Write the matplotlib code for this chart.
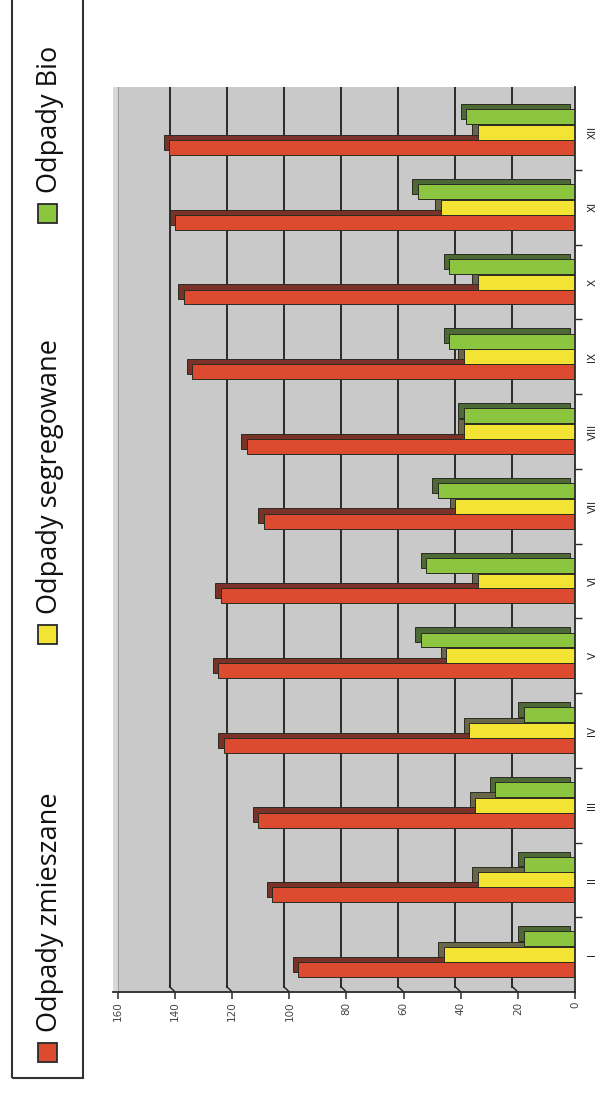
import matplotlib
matplotlib.use("Agg")
import matplotlib.pyplot as plt
import numpy as np
from matplotlib.patches import Rectangle

# data
months = ["I", "II", "III", "IV", "V", "VI", "VII", "VIII", "IX", "X", "XI", "XII"]
series_names = ["Odpady zmieszane", "Odpady segregowane", "Odpady Bio"]
mixed = [97, 106, 111, 123, 125, 124, 109, 115, 134, 137, 140, 142]
sorted_waste = [46, 34, 35, 37, 45, 34, 42, 39, 39, 34, 47, 34]
bio = [18, 18, 28, 18, 54, 52, 48, 39, 44, 44, 55, 38]
value_ticks = [0, 20, 40, 60, 80, 100, 120, 140, 160]

front_colors = ["#dc4a2f", "#f3e434", "#8cc53f"]
top_colors = ["#7a3128", "#68674a", "#4d6a36"]

W, H = 597, 1094


def fx(px):
    return px / W


def fy(py):
    return (H - py) / H


fig = plt.figure(figsize=(W / 100, H / 100), dpi=100)
fig.patch.set_facecolor("white")

# axes: value axis runs right -> left, months bottom -> top
ax_left, ax_right, ax_top, ax_bottom = 113, 575, 87, 992
ax = fig.add_axes([fx(ax_left), fy(ax_bottom), fx(ax_right - ax_left),
                   (ax_bottom - ax_top) / H])
ax.set_facecolor("#c9c9c9")
ax.set_xlim(161.75, 0)
ax.set_ylim(0.5, 12.61)

y = np.arange(1, len(months) + 1)
h = 0.2
offsets = [-0.2, 0.0, 0.21]
dv, dh = 1.9, 0.07  # fake 3d depth

# back wall gridlines with small floor diagonal
for v in value_ticks[1:-1]:
    ax.plot([v + dv, v + dv], [0.5 + dh, 12.61], color="#1e1e1e", lw=1.3, zorder=1)
    ax.plot([v, v + dv], [0.5, 0.5 + dh], color="#1e1e1e", lw=1.0, zorder=1)
ax.axvspan(160, 161.75, color="#d9d9d9", zorder=1)
ax.plot([160, 160], [0.5, 12.61], color="#9a9a9a", lw=0.8, zorder=1)

for vals, off, fc, tc in zip([mixed, sorted_waste, bio], offsets,
                             front_colors, top_colors):
    ax.barh(y + off + dh, vals, height=h, left=dv, color=tc,
            edgecolor="#2b2b22", lw=0.7, zorder=2)
    ax.barh(y + off, vals, height=h, left=0, color=fc,
            edgecolor="#2b2b22", lw=0.7, zorder=2)

for s in ["left", "top"]:
    ax.spines[s].set_visible(False)
for s in ["bottom", "right"]:
    ax.spines[s].set_color("#2a2a2a")
    ax.spines[s].set_linewidth(1.3)
    ax.spines[s].set_zorder(5)

ax.set_xticks(value_ticks)
ax.set_xticklabels([str(v) for v in value_ticks], rotation=90,
                   fontsize=7.5, color="#444444")
ax.tick_params(axis="x", direction="out", length=5, width=1.1,
               color="#2a2a2a", pad=2)

ax.yaxis.tick_right()
ax.set_yticks(y)
ax.set_yticklabels(months, rotation=90, fontsize=7.5, color="#222222",
                   va="center")
ax.set_yticks(np.arange(1.5, 12.5, 1), minor=True)
ax.tick_params(axis="y", which="major", length=0, pad=9)
ax.tick_params(axis="y", which="minor", direction="out", length=5,
               width=1.0, color="#2a2a2a")

# rotated legend drawn by hand
fig.patches.append(Rectangle((fx(12), fy(1078)), fx(71), (1078 + 5) / H,
                             transform=fig.transFigure, fill=False,
                             edgecolor="#333333", lw=1.5))
legend_pos = [1052, 634, 213]
for name, fc, py in zip(series_names, front_colors, legend_pos):
    fig.patches.append(Rectangle((fx(38), fy(py + 9.5)), fx(19), 19 / H,
                                 transform=fig.transFigure, facecolor=fc,
                                 edgecolor="#2a2a2a", lw=1.3))
    fig.text(fx(50), fy(py - 20), name, rotation=90, ha="center",
             va="bottom", fontsize=19.5, family="Open Sans", color="#111111")

fig.savefig("out.png", dpi=100)
